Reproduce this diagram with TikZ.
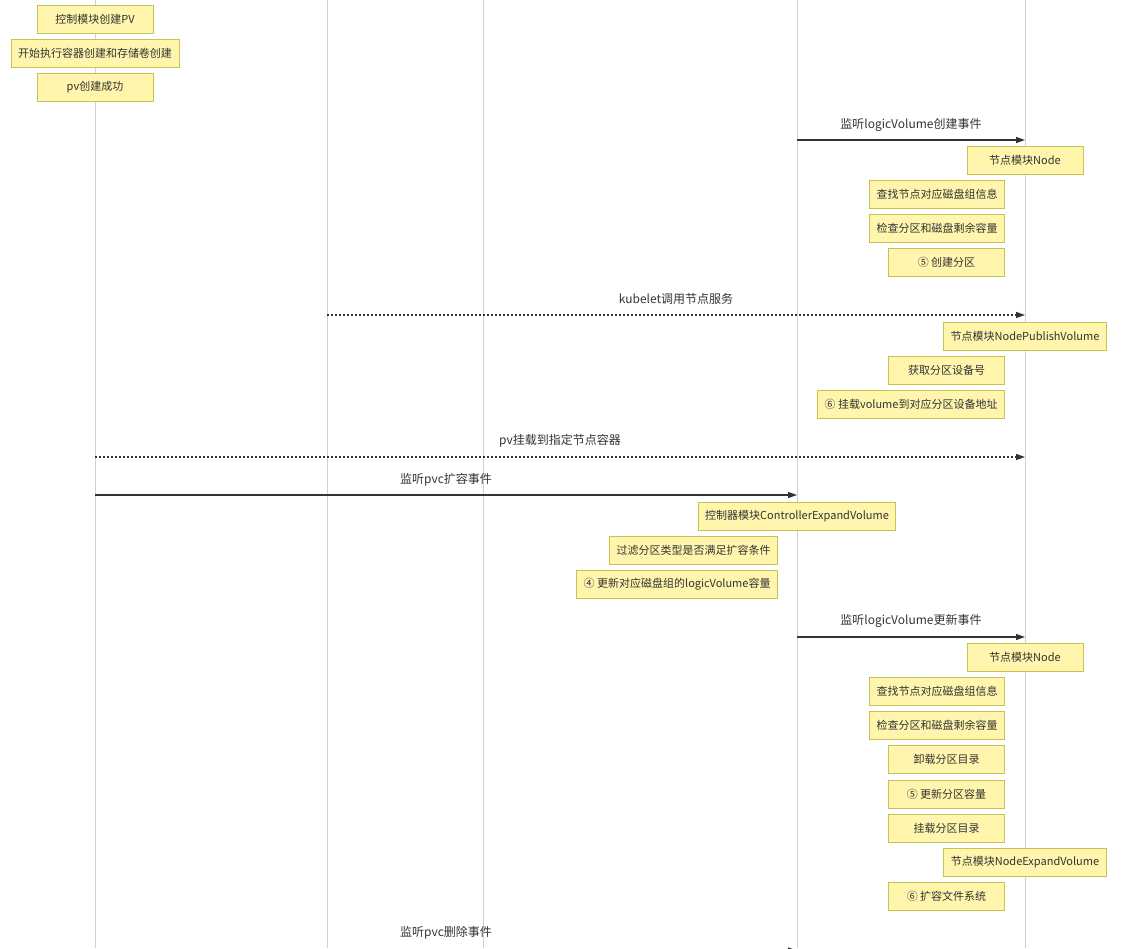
\documentclass[tikz,border=0pt]{standalone}
\usepackage{fontspec}
\setmainfont{Noto Sans CJK SC}
\usepackage{tikz}
\usetikzlibrary{arrows.meta}
\definecolor{notefill}{HTML}{FFF5AD}
\definecolor{notedraw}{HTML}{C8C250}
\definecolor{txt}{HTML}{333333}
\definecolor{lifegray}{HTML}{D0D0D0}

\begin{document}
\begin{tikzpicture}[x=1pt,y=-1pt,
  life/.style={draw=lifegray,line width=1pt},
  note/.style={draw=notedraw,fill=notefill,line width=1pt,minimum height=28pt,minimum width=116pt,inner xsep=7pt,text=txt,font=\fontsize{11}{13}\selectfont},
  lnote/.style={note,anchor=east},
  msg/.style={draw=txt,line width=1.3pt,-{Triangle[length=9pt,width=6pt]}},
  dmsg/.style={msg,line width=1.2pt,dash pattern=on 2pt off 2pt},
  lbl/.style={text=txt,font=\fontsize{12}{14}\selectfont}]
\useasboundingbox (0,0) rectangle (1130,948);
% lifelines
\foreach \n/\x in {ctl/95,kub/327,csi/483,ctr/797,nod/1025}{
  \coordinate (\n top) at (\x,0);
  \coordinate (\n bot) at (\x,948);
  \draw[life] (\n top) -- (\n bot);
}
% controller notes
\node[note] (n1) at (95,19) {控制模块创建PV};
\node[note] (n2) at (95,53) {开始执行容器创建和存储卷创建};
\node[note] (n3) at (95,87) {pv创建成功};
% logicVolume create
\coordinate (m1a) at (797,140);
\coordinate (m1b) at (1025,140);
\draw[msg] (m1a) -- (m1b);
\node[lbl] (l1) at (911,125) {监听logicVolume创建事件};
\node[note] (n4) at (1025,160) {节点模块Node};
\node[lnote] (n5) at (1005,194) {查找节点对应磁盘组信息};
\node[lnote] (n6) at (1005,228) {检查分区和磁盘剩余容量};
\node[lnote] (n7) at (1005,262) {⑤ 创建分区};
% kubelet
\coordinate (m2a) at (327,315);
\coordinate (m2b) at (1025,315);
\draw[dmsg] (m2a) -- (m2b);
\node[lbl] (l2) at (676,299) {kubelet调用节点服务};
\node[note] (n8) at (1025,336) {节点模块NodePublishVolume};
\node[lnote] (n9) at (1005,370) {获取分区设备号};
\node[lnote] (n10) at (1005,404) {⑥ 挂载volume到对应分区设备地址};
% pv mounted
\coordinate (m3a) at (95,457);
\coordinate (m3b) at (1025,457);
\draw[dmsg] (m3a) -- (m3b);
\node[lbl] (l3) at (560,441) {pv挂载到指定节点容器};
% pvc expand
\coordinate (m4a) at (95,495);
\coordinate (m4b) at (797,495);
\draw[msg] (m4a) -- (m4b);
\node[lbl] (l4) at (446,480) {监听pvc扩容事件};
\node[note] (n11) at (797,516) {控制器模块ControllerExpandVolume};
\node[lnote] (n12) at (778,550) {过滤分区类型是否满足扩容条件};
\node[lnote] (n13) at (778,584) {④ 更新对应磁盘组的logicVolume容量};
% logicVolume update
\coordinate (m5a) at (797,637);
\coordinate (m5b) at (1025,637);
\draw[msg] (m5a) -- (m5b);
\node[lbl] (l5) at (911,621) {监听logicVolume更新事件};
\node[note] (n14) at (1025,657) {节点模块Node};
\node[lnote] (n15) at (1005,691) {查找节点对应磁盘组信息};
\node[lnote] (n16) at (1005,725) {检查分区和磁盘剩余容量};
\node[lnote] (n17) at (1005,759) {卸载分区目录};
\node[lnote] (n18) at (1005,794) {⑤ 更新分区容量};
\node[lnote] (n19) at (1005,828) {挂载分区目录};
\node[note] (n20) at (1025,862) {节点模块NodeExpandVolume};
\node[lnote] (n21) at (1005,896) {⑥ 扩容文件系统};
% pvc delete, arrow falls just below the cut
\coordinate (m6a) at (95,950.5);
\coordinate (m6b) at (797,950.5);
\draw[msg] (m6a) -- (m6b);
\node[lbl] (l6) at (446,933) {监听pvc删除事件};
\end{tikzpicture}
\end{document}
